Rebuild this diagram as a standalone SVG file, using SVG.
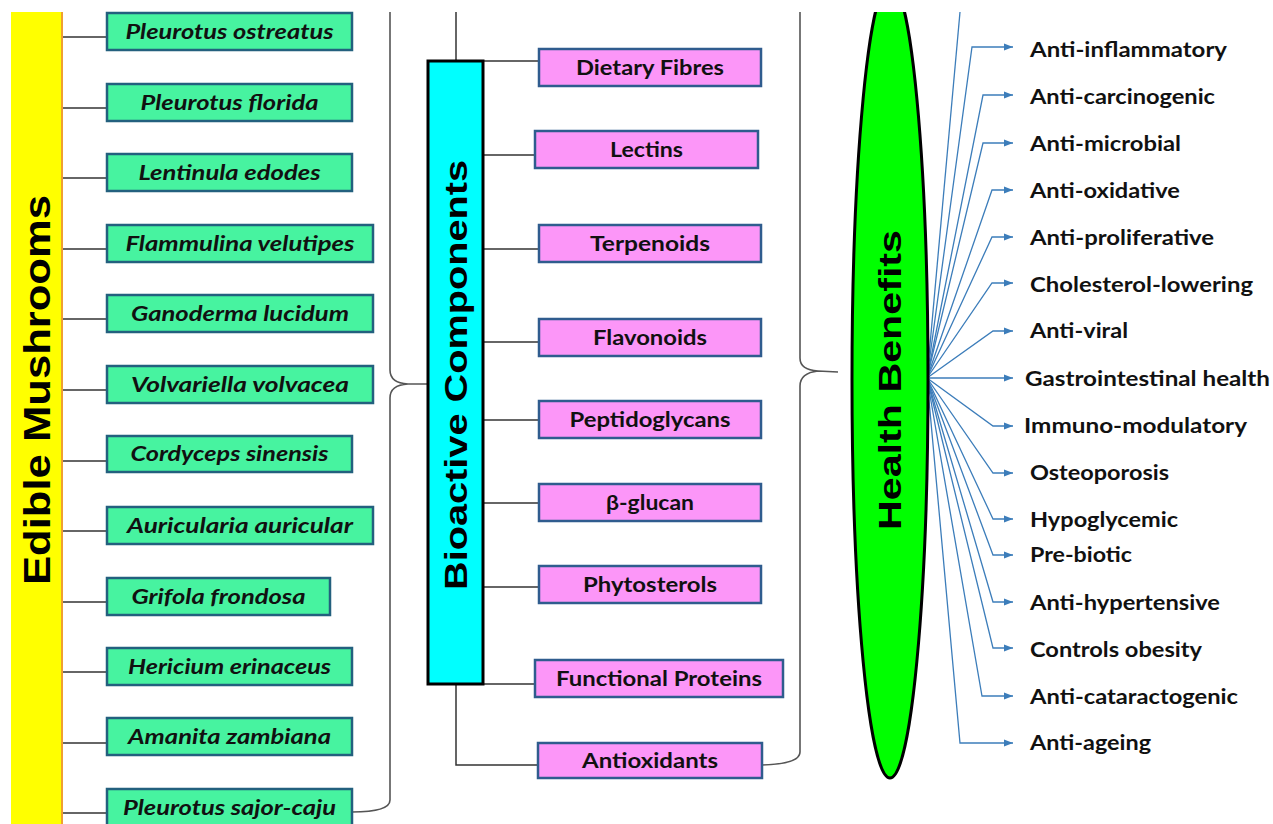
<svg xmlns="http://www.w3.org/2000/svg" width="1273" height="824" viewBox="0 0 1273 824">
<style>
.g{fill:#47F3A0;stroke:#23607E;stroke-width:2.5}
.p{fill:#FC96F8;stroke:#2F5C8E;stroke-width:2.5}
.gt{font-family:Lato,"Open Sans",sans-serif;font-weight:bold;font-style:italic;font-size:20px;fill:#111;text-anchor:middle}
.pt{font-family:Lato,"Open Sans",sans-serif;font-weight:bold;font-size:20px;fill:#111;text-anchor:middle}
.ht{font-family:Lato,"Open Sans",sans-serif;font-weight:bold;font-size:21px;fill:#111}
.big{font-family:"Liberation Sans",Arial,sans-serif;font-weight:bold;fill:#000;text-anchor:middle}
.k{stroke:#333;stroke-width:1.5;fill:none}
.br{stroke:#555;stroke-width:1.6;fill:none}
.b{stroke:#3C7DBA;stroke-width:1.3;fill:none}
</style>
<defs>
<marker id="ah" markerUnits="userSpaceOnUse" markerWidth="9" markerHeight="8" refX="9" refY="4" orient="auto">
<path d="M0,0.5 L9,4 L0,7.5 z" fill="#3C7DBA"/>
</marker>
</defs>
<rect width="1273" height="824" fill="#fff"/>

<g id="edible-mushrooms">
<rect x="11" y="12" width="51" height="812" fill="#FFFF00"/>
<line x1="62" y1="12" x2="62" y2="824" stroke="#F0A030" stroke-width="2"/>
<text class="big" font-size="36" transform="translate(50,390) rotate(-90)" textLength="390" lengthAdjust="spacingAndGlyphs">Edible Mushrooms</text>
</g>

<g id="connectors">
<g class="k">
<line x1="63" y1="37" x2="107" y2="37"/>
<line x1="63" y1="108" x2="107" y2="108"/>
<line x1="63" y1="178" x2="107" y2="178"/>
<line x1="63" y1="249" x2="107" y2="249"/>
<line x1="63" y1="319" x2="107" y2="319"/>
<line x1="63" y1="390" x2="107" y2="390"/>
<line x1="63" y1="461" x2="107" y2="461"/>
<line x1="63" y1="531" x2="107" y2="531"/>
<line x1="63" y1="602" x2="107" y2="602"/>
<line x1="63" y1="672" x2="107" y2="672"/>
<line x1="63" y1="743" x2="107" y2="743"/>
<line x1="63" y1="813" x2="107" y2="813"/>
<line x1="456" y1="12" x2="456" y2="61"/>
<line x1="483" y1="61" x2="539" y2="61"/>
<line x1="483" y1="155" x2="535" y2="155"/>
<line x1="483" y1="249" x2="539" y2="249"/>
<line x1="483" y1="342" x2="539" y2="342"/>
<line x1="483" y1="420" x2="539" y2="420"/>
<line x1="483" y1="503" x2="539" y2="503"/>
<line x1="483" y1="587" x2="539" y2="587"/>
<line x1="483" y1="684" x2="535" y2="684"/>
<polyline points="456,684 456,765 538,765"/>
</g>
<path class="br" d="M390,12 L390,370 Q390,383 408,384 L427,384 M408,384 Q390,385 390,398 L390,800 Q390,812 352,812"/>
<path class="br" d="M800,12 L800,358 Q800,370 818,371 L838,372 M818,371 Q800,373 800,386 L800,752 Q800,764 762,765"/>
<g class="b">
<line x1="927" y1="378" x2="960" y2="12"/>
<polyline points="927,378 972,47 1013,47" marker-end="url(#ah)"/>
<polyline points="927,378 983,95 1013,95" marker-end="url(#ah)"/>
<polyline points="927,378 983,143 1013,143" marker-end="url(#ah)"/>
<polyline points="927,378 992,190 1013,190" marker-end="url(#ah)"/>
<polyline points="927,378 992,237 1013,237" marker-end="url(#ah)"/>
<polyline points="927,378 992,283 1013,283" marker-end="url(#ah)"/>
<polyline points="927,378 993,331 1013,331" marker-end="url(#ah)"/>
<polyline points="927,378 1013,378" marker-end="url(#ah)"/>
<polyline points="927,378 993,426 1013,426" marker-end="url(#ah)"/>
<polyline points="927,378 993,473 1013,473" marker-end="url(#ah)"/>
<polyline points="927,378 993,519 1013,519" marker-end="url(#ah)"/>
<polyline points="927,378 993,555 1013,555" marker-end="url(#ah)"/>
<polyline points="927,378 993,602 1013,602" marker-end="url(#ah)"/>
<polyline points="927,378 993,648 1013,648" marker-end="url(#ah)"/>
<polyline points="927,378 982,696 1013,696" marker-end="url(#ah)"/>
<polyline points="927,378 960,743 1013,743" marker-end="url(#ah)"/>
</g>
</g>

<g id="m1"><rect class="g" x="107" y="13" width="245" height="37"/><text class="gt" x="229.5" y="39" textLength="208" lengthAdjust="spacingAndGlyphs">Pleurotus ostreatus</text></g>
<g id="m2"><rect class="g" x="107" y="84" width="245" height="37"/><text class="gt" x="229.5" y="110" textLength="178" lengthAdjust="spacingAndGlyphs">Pleurotus florida</text></g>
<g id="m3"><rect class="g" x="107" y="154" width="245" height="37"/><text class="gt" x="229.5" y="180" textLength="182" lengthAdjust="spacingAndGlyphs">Lentinula edodes</text></g>
<g id="m4"><rect class="g" x="107" y="225" width="266" height="37"/><text class="gt" x="240" y="251" textLength="229" lengthAdjust="spacingAndGlyphs">Flammulina velutipes</text></g>
<g id="m5"><rect class="g" x="107" y="295" width="266" height="37"/><text class="gt" x="240" y="321" textLength="218" lengthAdjust="spacingAndGlyphs">Ganoderma lucidum</text></g>
<g id="m6"><rect class="g" x="107" y="366" width="266" height="37"/><text class="gt" x="240" y="392" textLength="218" lengthAdjust="spacingAndGlyphs">Volvariella volvacea</text></g>
<g id="m7"><rect class="g" x="107" y="436" width="245" height="36"/><text class="gt" x="229.5" y="461" textLength="198" lengthAdjust="spacingAndGlyphs">Cordyceps sinensis</text></g>
<g id="m8"><rect class="g" x="107" y="507" width="266" height="37"/><text class="gt" x="240" y="533" textLength="226" lengthAdjust="spacingAndGlyphs">Auricularia auricular</text></g>
<g id="m9"><rect class="g" x="107" y="578" width="223" height="37"/><text class="gt" x="218.5" y="604" textLength="174" lengthAdjust="spacingAndGlyphs">Grifola frondosa</text></g>
<g id="m10"><rect class="g" x="107" y="648" width="245" height="37"/><text class="gt" x="229.5" y="674" textLength="203" lengthAdjust="spacingAndGlyphs">Hericium erinaceus</text></g>
<g id="m11"><rect class="g" x="107" y="718" width="245" height="37"/><text class="gt" x="229.5" y="744" textLength="203" lengthAdjust="spacingAndGlyphs">Amanita zambiana</text></g>
<g id="m12"><rect class="g" x="107" y="789" width="245" height="37"/><text class="gt" x="229.5" y="815" textLength="213" lengthAdjust="spacingAndGlyphs">Pleurotus sajor-caju</text></g>

<g id="bioactive-components">
<rect x="428" y="61" width="55" height="623" fill="#00FFFF" stroke="#000" stroke-width="3"/>
<text class="big" font-size="32" transform="translate(467,375) rotate(-90)" textLength="430" lengthAdjust="spacingAndGlyphs">Bioactive Components</text>
</g>

<g id="c1"><rect class="p" x="539" y="49" width="222" height="37"/><text class="pt" x="650" y="75" textLength="148" lengthAdjust="spacingAndGlyphs">Dietary Fibres</text></g>
<g id="c2"><rect class="p" x="535" y="131" width="223" height="37"/><text class="pt" x="646.5" y="157" textLength="73" lengthAdjust="spacingAndGlyphs">Lectins</text></g>
<g id="c3"><rect class="p" x="539" y="225" width="222" height="37"/><text class="pt" x="650" y="251" textLength="120" lengthAdjust="spacingAndGlyphs">Terpenoids</text></g>
<g id="c4"><rect class="p" x="539" y="319" width="222" height="37"/><text class="pt" x="650" y="345" textLength="114" lengthAdjust="spacingAndGlyphs">Flavonoids</text></g>
<g id="c5"><rect class="p" x="539" y="401" width="222" height="37"/><text class="pt" x="650" y="427" textLength="161" lengthAdjust="spacingAndGlyphs">Peptidoglycans</text></g>
<g id="c6"><rect class="p" x="539" y="484" width="222" height="37"/><text class="pt" x="650" y="510" textLength="88" lengthAdjust="spacingAndGlyphs">β-glucan</text></g>
<g id="c7"><rect class="p" x="539" y="566" width="222" height="37"/><text class="pt" x="650" y="592" textLength="134" lengthAdjust="spacingAndGlyphs">Phytosterols</text></g>
<g id="c8"><rect class="p" x="535" y="660" width="248" height="37"/><text class="pt" x="659" y="686" textLength="206" lengthAdjust="spacingAndGlyphs">Functional Proteins</text></g>
<g id="c9"><rect class="p" x="538" y="743" width="224" height="35"/><text class="pt" x="650" y="768" textLength="136" lengthAdjust="spacingAndGlyphs">Antioxidants</text></g>

<g id="health-benefits">
<ellipse cx="890" cy="380" rx="38" ry="398" fill="#00FF00" stroke="#000" stroke-width="3"/>
<rect x="840" y="0" width="120" height="12" fill="#fff"/>
<text class="big" font-size="32" transform="translate(901,380) rotate(-90)" textLength="300" lengthAdjust="spacingAndGlyphs">Health Benefits</text>
</g>

<g id="benefits">
<text class="ht" x="1030" y="57" textLength="197" lengthAdjust="spacingAndGlyphs">Anti-inflammatory</text>
<text class="ht" x="1030" y="104" textLength="185" lengthAdjust="spacingAndGlyphs">Anti-carcinogenic</text>
<text class="ht" x="1030" y="151" textLength="151" lengthAdjust="spacingAndGlyphs">Anti-microbial</text>
<text class="ht" x="1030" y="198" textLength="150" lengthAdjust="spacingAndGlyphs">Anti-oxidative</text>
<text class="ht" x="1030" y="245" textLength="184" lengthAdjust="spacingAndGlyphs">Anti-proliferative</text>
<text class="ht" x="1030" y="292" textLength="223" lengthAdjust="spacingAndGlyphs">Cholesterol-lowering</text>
<text class="ht" x="1030" y="338" textLength="98" lengthAdjust="spacingAndGlyphs">Anti-viral</text>
<text class="ht" x="1025" y="386" textLength="245" lengthAdjust="spacingAndGlyphs">Gastrointestinal health</text>
<text class="ht" x="1024" y="433" textLength="223" lengthAdjust="spacingAndGlyphs">Immuno-modulatory</text>
<text class="ht" x="1030" y="480" textLength="139" lengthAdjust="spacingAndGlyphs">Osteoporosis</text>
<text class="ht" x="1030" y="527" textLength="148" lengthAdjust="spacingAndGlyphs">Hypoglycemic</text>
<text class="ht" x="1030" y="562" textLength="102" lengthAdjust="spacingAndGlyphs">Pre-biotic</text>
<text class="ht" x="1030" y="610" textLength="190" lengthAdjust="spacingAndGlyphs">Anti-hypertensive</text>
<text class="ht" x="1030" y="657" textLength="172" lengthAdjust="spacingAndGlyphs">Controls obesity</text>
<text class="ht" x="1030" y="704" textLength="208" lengthAdjust="spacingAndGlyphs">Anti-cataractogenic</text>
<text class="ht" x="1030" y="750" textLength="121" lengthAdjust="spacingAndGlyphs">Anti-ageing</text>
</g>
</svg>
